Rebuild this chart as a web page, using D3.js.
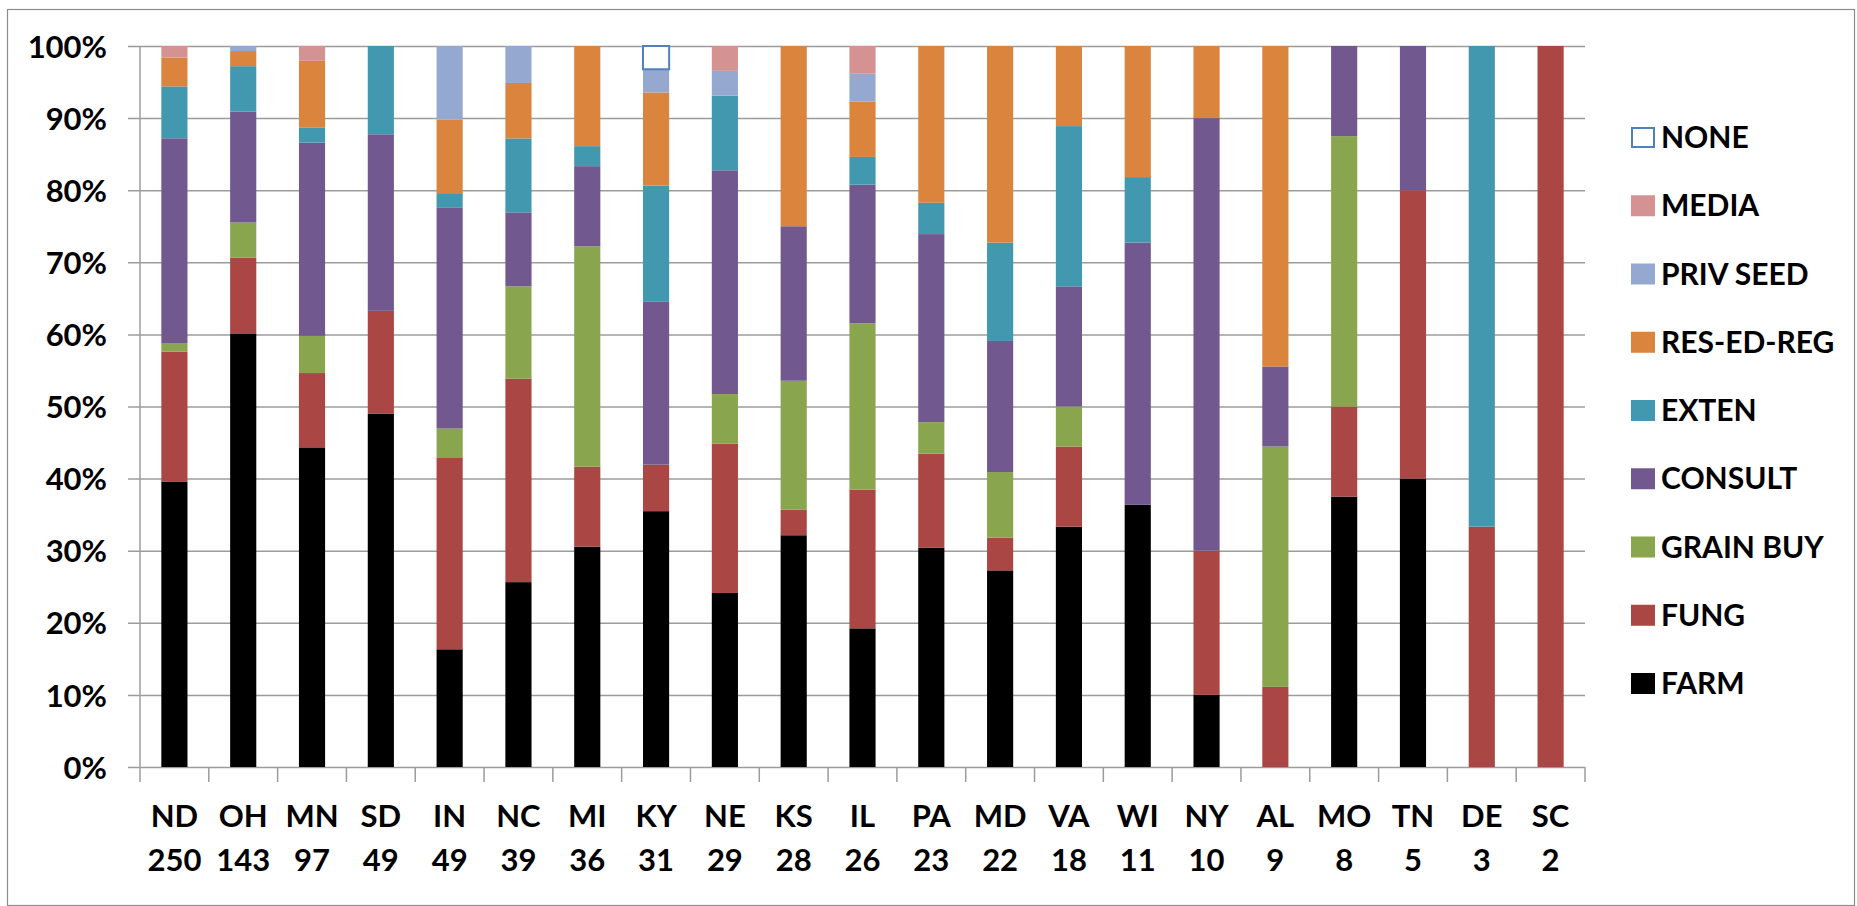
<!DOCTYPE html>
<html>
<head>
<meta charset="utf-8">
<script src="https://cdn.jsdelivr.net/npm/d3@7"></script>
<style>
  html, body { margin:0; padding:0; background:#fff; }
  svg text { font-family: Lato, "Open Sans", sans-serif; font-weight:700; fill:#000; }
</style>
</head>
<body>
<div id="chart"></div>
<script>
// state codes and respondents per state (second label line)
const STATES = ["ND","OH","MN","SD","IN","NC","MI","KY","NE","KS","IL","PA","MD","VA","WI","NY","AL","MO","TN","DE","SC"];
const TOTALS = [250,143,97,49,49,39,36,31,29,28,26,23,22,18,11,10,9,8,5,3,2];

// counts per source (same order as STATES)
const FARM      = [99,86,43,24, 8,10,11,11,7,9,5,7,6,6,4,1,0,3,2,0,0];
const FUNG      = [45,15,10, 7,13,11, 4, 2,6,1,5,3,1,2,0,2,1,1,2,1,2];
const GRAIN_BUY = [ 3, 7, 5, 0, 2, 5,11, 0,2,5,6,1,2,1,0,0,3,3,0,0,0];
const CONSULT   = [71,22,26,12,15, 4, 4, 7,9,6,5,6,4,3,4,6,1,1,1,0,0];
const EXTEN     = [18, 9, 2, 6, 1, 4, 1, 5,3,0,1,1,3,4,1,0,0,0,0,2,0];
const RES_ED    = [10, 3, 9, 0, 5, 3, 5, 4,0,7,2,5,6,2,2,1,4,0,0,0,0];
const PRIV_SEED = [ 0, 1, 0, 0, 5, 2, 0, 1,1,0,1,0,0,0,0,0,0,0,0,0,0];
const MEDIA     = [ 4, 0, 2, 0, 0, 0, 0, 0,1,0,1,0,0,0,0,0,0,0,0,0,0];
const NONE      = [ 0, 0, 0, 0, 0, 0, 0, 1,0,0,0,0,0,0,0,0,0,0,0,0,0];

// bottom → top stacking order
const SERIES = [
  { key:"FARM",       values:FARM,      fill:"#000000" },
  { key:"FUNG",       values:FUNG,      fill:"#AA4643" },
  { key:"GRAIN BUY",  values:GRAIN_BUY, fill:"#89A54E" },
  { key:"CONSULT",    values:CONSULT,   fill:"#71588F" },
  { key:"EXTEN",      values:EXTEN,     fill:"#4298AF" },
  { key:"RES-ED-REG", values:RES_ED,    fill:"#DB843D" },
  { key:"PRIV SEED",  values:PRIV_SEED, fill:"#95A9D0" },
  { key:"MEDIA",      values:MEDIA,     fill:"#D49392" },
  { key:"NONE",       values:NONE,      fill:"#FFFFFF", stroke:"#4F81BD" },
];

const Y_TICKS = [0,0.1,0.2,0.3,0.4,0.5,0.6,0.7,0.8,0.9,1];

const W = 1857, H = 906;
const plot = { left:140, right:1585, top:46, bottom:767 };
const GRID = "#9C9C9C";

const svg = d3.select("#chart").append("svg")
  .attr("width", W)
  .attr("height", H);

svg.append("rect")
  .attr("x", 7.5).attr("y", 9.5)
  .attr("width", 1847).attr("height", 896)
  .attr("fill", "#fff")
  .attr("stroke", "#8C8C8C")
  .attr("stroke-width", 1.2);

// one row per state for d3.stack
const rows = STATES.map((s, i) => {
  const r = { state:s };
  SERIES.forEach(se => { r[se.key] = se.values[i]; });
  return r;
});

const stacked = d3.stack()
  .keys(SERIES.map(d => d.key))
  .offset(d3.stackOffsetExpand)(rows);

const x = d3.scaleBand()
  .domain(STATES)
  .range([plot.left, plot.right])
  .paddingInner(0.62)
  .paddingOuter(0.31);

const y = d3.scaleLinear()
  .domain([0, 1])
  .range([plot.bottom, plot.top]);

// ── gridlines + y labels ───────────────────────────────────────────────
const yAxis = svg.append("g")
  .attr("transform", `translate(${plot.right},0)`)
  .call(d3.axisLeft(y)
    .tickValues(Y_TICKS)
    .tickFormat(d3.format(".0%"))
    .tickSize(plot.right - 128)
    .tickPadding(21));
yAxis.select(".domain").remove();
yAxis.selectAll("line")
  .attr("stroke", GRID)
  .attr("stroke-width", 1.5);
yAxis.selectAll("text")
  .style("font-size", "31px")
  .attr("dy", "0.36em");

// ── bars ───────────────────────────────────────────────────────────────
const seriesByKey = Object.fromEntries(SERIES.map(d => [d.key, d]));

svg.append("g").selectAll("g")
  .data(stacked)
  .enter()
  .append("g")
  .attr("fill",   d => seriesByKey[d.key].fill)
  .attr("stroke", d => seriesByKey[d.key].stroke || "none")
  .attr("stroke-width", 2)
  .selectAll("rect")
  .data(d => d.filter(p => p[1] - p[0] > 0))
  .enter()
  .append("rect")
  .attr("x",      d => x(d.data.state))
  .attr("width",  x.bandwidth())
  .attr("y",      d => y(d[1]))
  .attr("height", d => y(d[0]) - y(d[1]));

// ── axes lines and ticks between categories ────────────────────────────
const step = x.step();
const edges = STATES.map(s => x(s) - (step - x.bandwidth()) / 2).concat([plot.right]);

svg.append("line")
  .attr("x1", plot.left).attr("x2", plot.left)
  .attr("y1", plot.top).attr("y2", plot.bottom)
  .attr("stroke", GRID).attr("stroke-width", 1.5);

svg.append("g").selectAll("line")
  .data(edges)
  .enter()
  .append("line")
  .attr("x1", d => d).attr("x2", d => d)
  .attr("y1", plot.bottom).attr("y2", plot.bottom + 15)
  .attr("stroke", GRID)
  .attr("stroke-width", 1.5);

// ── x labels: state code over respondent count ────────────────────────
const xl = svg.append("g").selectAll("text")
  .data(STATES)
  .enter()
  .append("text")
  .attr("text-anchor", "middle")
  .style("font-size", "31px");

xl.append("tspan")
  .attr("x", d => x(d) + x.bandwidth() / 2)
  .attr("y", 827)
  .text(d => d);
xl.append("tspan")
  .attr("x", d => x(d) + x.bandwidth() / 2)
  .attr("y", 871)
  .text((d, i) => TOTALS[i]);

// ── legend (top entry = top of stack) ──────────────────────────────────
const legend = svg.append("g").selectAll("g")
  .data(SERIES.slice().reverse())
  .enter()
  .append("g")
  .attr("transform", (d, i) => `translate(1631,${137.5 + i * 68.25})`);

legend.append("rect")
  .attr("x", d => d.stroke ? 1 : 0)
  .attr("y", d => d.stroke ? -9.5 : -10.5)
  .attr("width",  d => d.stroke ? 22 : 24)
  .attr("height", d => d.stroke ? 19 : 21)
  .attr("fill",   d => d.fill)
  .attr("stroke", d => d.stroke || "none")
  .attr("stroke-width", 2);

legend.append("text")
  .attr("x", 30)
  .attr("y", 10.5)
  .style("font-size", "30px")
  .text(d => d.key);
</script>
</body>
</html>
